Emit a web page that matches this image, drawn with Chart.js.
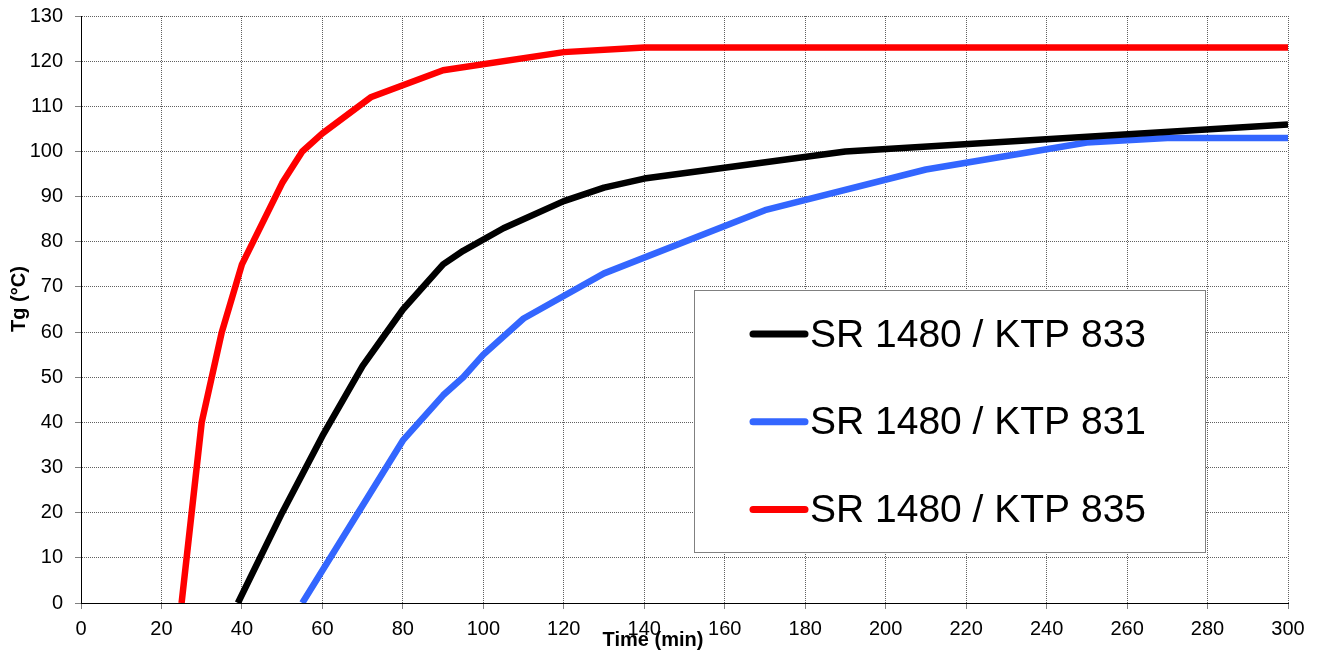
<!DOCTYPE html>
<html>
<head>
<meta charset="utf-8">
<script src="https://cdn.jsdelivr.net/npm/chart.js@4/dist/chart.umd.min.js"></script>
<style>
  html, body { margin: 0; padding: 0; background: #fff; }
  #wrap { width: 1321px; height: 653px; position: relative; }
</style>
</head>
<body>
<div id="wrap"><canvas id="tgchart"></canvas></div>
<script>
// series: time in min, Tg in °C
const timeKTP833 = [39, 50, 60, 70, 80, 90, 95, 105, 120, 130, 140, 190, 300];
const tgKTP833   = [0, 20, 37, 52.5, 65, 75, 78, 83, 89, 92, 94, 100, 106];

const timeKTP831 = [55, 80, 90, 95, 100, 110, 130, 170, 210, 250, 270, 300];
const tgKTP831   = [0, 36, 46, 50, 55, 63, 73, 87, 96, 102, 103, 103];

const timeKTP835 = [25, 30, 35, 40, 50, 55, 60, 72, 90, 120, 140, 300];
const tgKTP835   = [0, 40, 60, 75, 93, 100, 104, 112, 118, 122, 123, 123];

const seriesLabels = ["SR 1480 / KTP 833", "SR 1480 / KTP 831", "SR 1480 / KTP 835"];
const seriesColors = ["#000000", "#3366ff", "#ff0000"];

const xTitle = "Time (min)";
const yTitle = "Tg (°C)";

const FONT = "'Liberation Sans', Arial, sans-serif";

function toPoints(xs, ys) {
    return xs.map((x, i) => ({ x: x, y: ys[i] }));
}

// axis titles and the boxed legend sit in odd places, so draw them by hand
const extrasPlugin = {
    id: 'extras',
    afterDraw(chart) {
        const ctx = chart.ctx;
        ctx.save();

        // axis titles
        ctx.fillStyle = '#000';
        ctx.font = "bold 20px " + FONT;
        ctx.textAlign = 'center';
        ctx.textBaseline = 'middle';
        ctx.fillText(xTitle, 653, 640);
        ctx.save();
        ctx.translate(19, 299);
        ctx.rotate(-Math.PI / 2);
        ctx.fillText(yTitle, 0, 0);
        ctx.restore();

        // legend box
        const bx = 694.5, by = 290.5, bw = 511, bh = 262;
        ctx.fillStyle = '#fff';
        ctx.fillRect(bx, by, bw, bh);
        ctx.strokeStyle = '#808080';
        ctx.lineWidth = 1;
        ctx.strokeRect(bx, by, bw, bh);

        ctx.font = "39px " + FONT;
        ctx.textAlign = 'left';
        ctx.textBaseline = 'middle';
        chart.data.datasets.forEach((ds, i) => {
            const y = 334 + i * 87.7;
            ctx.strokeStyle = ds.borderColor;
            ctx.lineWidth = 7;
            ctx.lineCap = 'round';
            ctx.beginPath();
            ctx.moveTo(753, y);
            ctx.lineTo(805, y);
            ctx.stroke();
            ctx.fillStyle = '#000';
            ctx.fillText(ds.label, 810, y + 2);
        });
        ctx.restore();
    }
};

const canvas = document.querySelector('#tgchart');
const chart = new Chart(canvas.getContext('2d'), {
    type: 'scatter',
    data: {
        datasets: [
            { label: seriesLabels[0], data: toPoints(timeKTP833, tgKTP833), borderColor: seriesColors[0] },
            { label: seriesLabels[1], data: toPoints(timeKTP831, tgKTP831), borderColor: seriesColors[1] },
            { label: seriesLabels[2], data: toPoints(timeKTP835, tgKTP835), borderColor: seriesColors[2] },
        ].map(ds => Object.assign(ds, {
            showLine: true,
            borderWidth: 6.5,
            pointRadius: 0,
            borderJoinStyle: 'round',
            borderCapStyle: 'butt',
            fill: false,
        })),
    },
    options: {
        responsive: true,
        maintainAspectRatio: false,
        animation: false,
        events: [],
        layout: { padding: { top: 16, right: 33, left: 0, bottom: 0 } },
        scales: {
            x: {
                type: 'linear',
                min: 0,
                max: 300,
                ticks: {
                    stepSize: 20,
                    color: '#000',
                    font: { family: FONT, size: 20 },
                    padding: 8,
                    maxRotation: 0,
                },
                grid: {
                    color: '#606060',
                    lineWidth: 1,
                    tickLength: 6,
                    tickColor: '#808080',
                    tickBorderDash: [],
                },
                border: { color: '#000', width: 1, dash: [1, 1] },
                afterFit(scale) {
                    scale.height = 50;
                    scale.paddingLeft = 0;
                    scale.paddingRight = 0;
                },
            },
            y: {
                min: 0,
                max: 130,
                ticks: {
                    stepSize: 10,
                    color: '#000',
                    font: { family: FONT, size: 20 },
                    padding: 12,
                },
                grid: {
                    color: '#606060',
                    lineWidth: 1,
                    tickLength: 6,
                    tickColor: '#808080',
                    tickBorderDash: [],
                },
                border: { color: '#000', width: 1, dash: [1, 1] },
                afterFit(scale) {
                    scale.width = 81;
                    scale.paddingTop = 0;
                    scale.paddingBottom = 0;
                },
            },
        },
        plugins: {
            legend: { display: false },
            tooltip: { enabled: false },
            title: { display: false },
        },
    },
    plugins: [extrasPlugin],
});
</script>
</body>
</html>
